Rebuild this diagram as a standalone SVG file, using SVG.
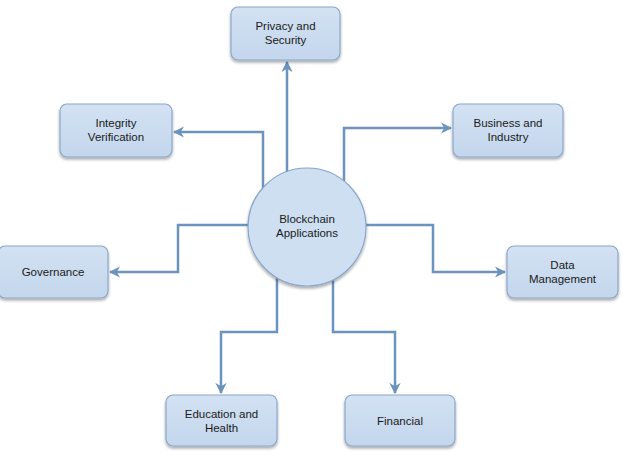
<svg xmlns="http://www.w3.org/2000/svg" width="623" height="463" viewBox="0 0 623 463">
  <defs>
    <linearGradient id="boxFill" x1="0" y1="0" x2="0" y2="1">
      <stop offset="0" stop-color="#d3e2f3"/>
      <stop offset="1" stop-color="#c3d6ec"/>
    </linearGradient>
    <filter id="shadow" x="-20%" y="-20%" width="140%" height="150%">
      <feGaussianBlur in="SourceAlpha" stdDeviation="1.5"/>
      <feOffset dx="0" dy="2" result="b"/>
      <feComponentTransfer><feFuncA type="linear" slope="0.35"/></feComponentTransfer>
      <feMerge><feMergeNode/><feMergeNode in="SourceGraphic"/></feMerge>
    </filter>
    <marker id="arrow" viewBox="0 0 10 10" refX="9" refY="5" markerWidth="4.5" markerHeight="4.5" orient="auto" markerUnits="strokeWidth">
      <path d="M0,0 L10,5 L0,10 L3,5 Z" fill="#6b93be"/>
    </marker>
  </defs>
  <style>
    .box { fill: url(#boxFill); stroke: #8aa7cb; stroke-width: 1.2; filter: url(#shadow); }
    .hub { fill: #cddff1; stroke: #8aa7cb; stroke-width: 1.2; filter: url(#shadow); }
    .label { font-family: "Liberation Sans", Arial, sans-serif; font-size: 11.5px; fill: #1a1a1a; text-anchor: middle; }
    .link { fill: none; stroke: #6b93be; stroke-width: 2.5; marker-end: url(#arrow); }
  </style>
  <rect width="623" height="463" fill="#ffffff"/>

  <g id="connectors">
    <path class="link" d="M287,172 V62"/>
    <path class="link" d="M263,188 V132 H174"/>
    <path class="link" d="M344,181 V128 H451"/>
    <path class="link" d="M249,225 H178 V272 H110"/>
    <path class="link" d="M365,225 H433 V272 H505"/>
    <path class="link" d="M277,278 V332 H221 V393"/>
    <path class="link" d="M333,280 V332 H395 V393"/>
  </g>

  <g id="hub">
    <circle class="hub" cx="307" cy="227" r="59"/>
    <text class="label" x="307" y="223">Blockchain</text>
    <text class="label" x="307" y="237">Applications</text>
  </g>

  <g id="privacy">
    <rect class="box" x="231" y="7" width="109" height="53" rx="7"/>
    <text class="label" x="285.5" y="30">Privacy and</text>
    <text class="label" x="285.5" y="44">Security</text>
  </g>

  <g id="integrity">
    <rect class="box" x="60" y="104" width="112" height="53" rx="7"/>
    <text class="label" x="116" y="127">Integrity</text>
    <text class="label" x="116" y="141">Verification</text>
  </g>

  <g id="business">
    <rect class="box" x="453" y="104" width="110" height="53" rx="7"/>
    <text class="label" x="508" y="127">Business and</text>
    <text class="label" x="508" y="141">Industry</text>
  </g>

  <g id="governance">
    <rect class="box" x="-2" y="246" width="110" height="52" rx="7"/>
    <text class="label" x="53" y="276">Governance</text>
  </g>

  <g id="data">
    <rect class="box" x="507" y="246" width="111" height="52" rx="7"/>
    <text class="label" x="562.5" y="269">Data</text>
    <text class="label" x="562.5" y="283">Management</text>
  </g>

  <g id="education">
    <rect class="box" x="166" y="395" width="111" height="51" rx="7"/>
    <text class="label" x="221.5" y="418">Education and</text>
    <text class="label" x="221.5" y="432">Health</text>
  </g>

  <g id="financial">
    <rect class="box" x="345" y="395" width="110" height="51" rx="7"/>
    <text class="label" x="400" y="425">Financial</text>
  </g>
</svg>
